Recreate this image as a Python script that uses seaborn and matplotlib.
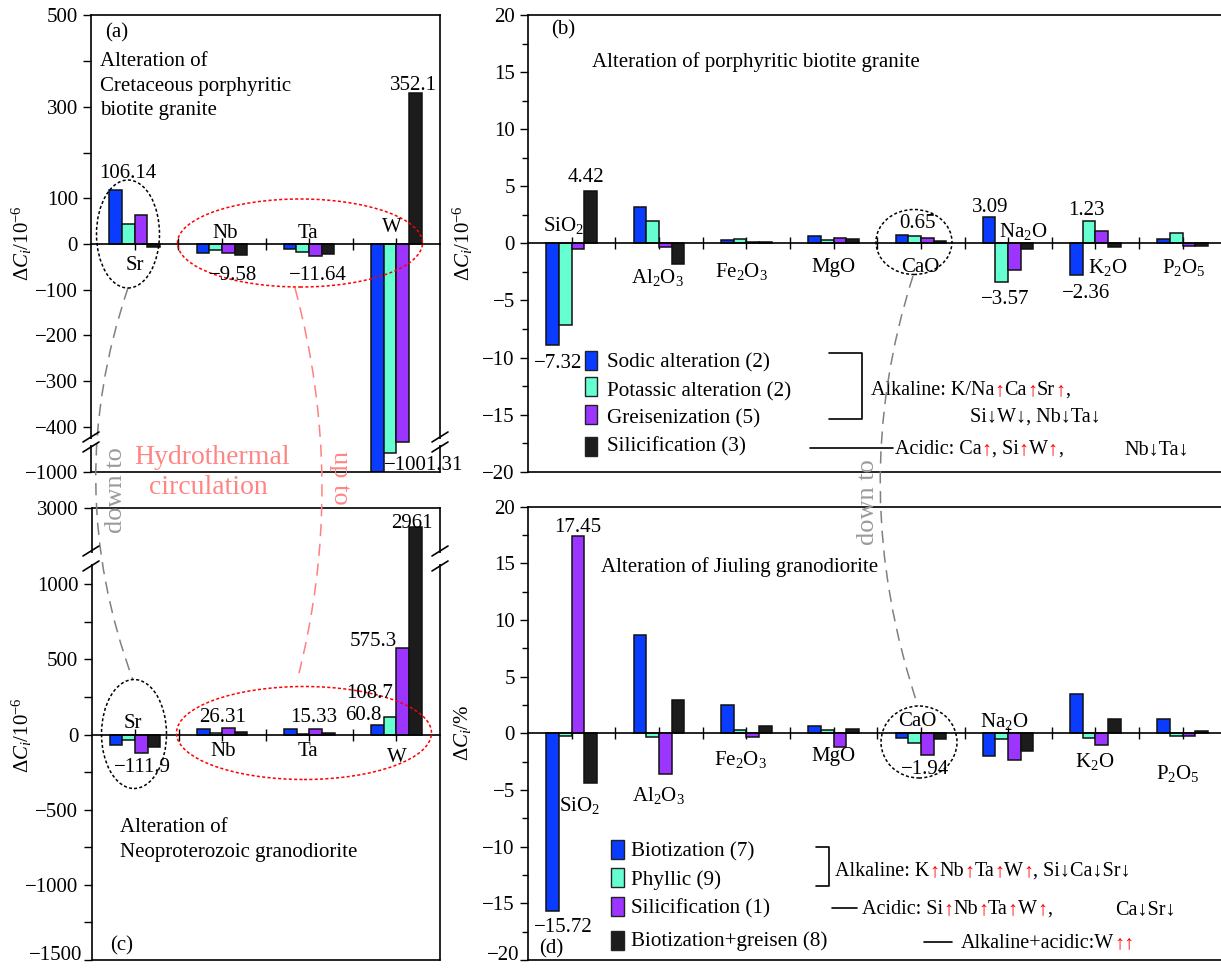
import numpy as np
import pandas as pd
import matplotlib
matplotlib.use("Agg")
import matplotlib.pyplot as plt
import seaborn as sns
from matplotlib.patches import Ellipse, PathPatch, Rectangle
from matplotlib.path import Path
from matplotlib.lines import Line2D

sns.set_theme(style="ticks")
plt.rcParams["font.family"] = ["Liberation Serif", "DejaVu Serif"]
plt.rcParams["mathtext.fontset"] = "custom"
plt.rcParams["mathtext.rm"] = "Liberation Serif"
plt.rcParams["mathtext.it"] = "Liberation Serif:italic"
for key in ["text.color", "axes.labelcolor", "xtick.color", "ytick.color", "axes.edgecolor"]:
    plt.rcParams[key] = "black"

W, H = 1221, 969

# ---- data ----
TRACE = ["Sr", "Nb", "Ta", "W"]
OXIDES = ["SiO$_2$", "Al$_2$O$_3$", "Fe$_2$O$_3$", "MgO", "CaO", "Na$_2$O", "K$_2$O", "P$_2$O$_5$"]

SERIES_B = ["Sodic alteration (2)", "Potassic alteration (2)", "Greisenization (5)", "Silicification (3)"]
SERIES_D = ["Biotization (7)", "Phyllic (9)", "Silicification (1)", "Biotization+greisen (8)"]
COLORS = ["#0a3cff", "#66ffd2", "#9b35ff", "#1c1c1c"]

# (a) Cretaceous porphyritic biotite granite, trace elements
a_sodic = [118, -20, -12, -1001.31]
a_potassic = [43, -13, -17, -601]
a_greisen = [63, -20, -26, -433]
a_silic = [-6, -24, -22, 330]

# (c) Neoproterozoic granodiorite, trace elements
c_biot = [-68, 38, 36, 66]
c_phyllic = [-33, 9, 6, 115]
c_silic = [-121, 42, 40, 574]
c_biot_greisen = [-84, 16, 10, 2366]

# (b) porphyritic biotite granite, major oxides
b_sodic = [-8.9, 3.2, 0.3, 0.63, 0.75, 2.27, -2.8, 0.4]
b_potassic = [-7.17, 1.94, 0.36, 0.3, 0.6, -3.4, 1.98, 0.93]
b_greisen = [-0.5, -0.36, 0.1, 0.45, 0.5, -2.3, 1.1, -0.24]
b_silic = [4.6, -1.79, 0.15, 0.39, 0.24, -0.53, -0.3, -0.2]

# (d) Jiuling granodiorite, major oxides
d_biot = [-15.72, 8.68, 2.52, 0.65, -0.4, -2.0, 3.5, 1.31]
d_phyllic = [-0.23, -0.32, 0.32, 0.3, -0.82, -0.5, -0.44, -0.2]
d_silic = [17.4, -3.62, -0.32, -1.19, -1.87, -2.34, -1.02, -0.2]
d_biot_greisen = [-4.35, 2.96, 0.65, 0.41, -0.5, -1.52, 1.31, 0.23]

MINUS = "\u2212"
a_ticks = [500, 400, 300, 200, 100, 0, -100, -200, -300, -400, -1000]
a_ticklabels = ["500", "", "300", "", "100", "0", MINUS + "100", MINUS + "200",
                MINUS + "300", MINUS + "400", MINUS + "1000"]
c_ticks = [3000, 1000, 750, 500, 250, 0, -250, -500, -750, -1000, -1250, -1500]
c_ticklabels = ["3000", "1000", "", "500", "", "0", "", MINUS + "500", "",
                MINUS + "1000", "", MINUS + "1500"]
bd_ticks = [20, 15, 10, 5, 0, -5, -10, -15, -20]
bd_ticklabels = [str(t).replace("-", MINUS) for t in bd_ticks]

fig = plt.figure(figsize=(W / 100, H / 100), dpi=100)


def px_axes(l, t, r, b):
    return fig.add_axes([l / W, 1 - b / H, (r - l) / W, (b - t) / H])


def ftext(x, y, s, size=15, **kw):
    kw.setdefault("ha", "center")
    kw.setdefault("va", "center")
    return fig.text(x / W, 1 - y / H, s, fontsize=size, **kw)


def fline(xs, ys, **kw):
    kw.setdefault("color", "black")
    kw.setdefault("lw", 1.2)
    fig.add_artist(Line2D([x / W for x in xs], [1 - y / H for y in ys],
                          transform=fig.transFigure, **kw))


def draw_bars(ax, cats, series, cols):
    df = pd.DataFrame(dict(zip(series, cols)), index=cats)
    df = df.reset_index(names="cat").melt(id_vars="cat", var_name="series", value_name="val")
    sns.barplot(data=df, x="cat", y="val", hue="series", order=cats, hue_order=series,
                palette=COLORS, saturation=1, width=0.58, edgecolor="#111111",
                linewidth=1.1, errorbar=None, legend=False, ax=ax)
    ax.set_xlabel("")
    ax.set_ylabel("")
    n = len(cats)
    ax.set_xlim(-0.5, n - 0.5)
    ax.set_xticks(range(n))
    ax.set_xticks(np.arange(n - 1) + 0.5, minor=True)
    ax.set_xticklabels([])
    ax.tick_params(axis="x", which="both", direction="inout", length=9, width=1)
    ax.spines["bottom"].set_position(("data", 0))
    ax.add_line(Line2D([0, 1], [0, 0], transform=ax.transAxes, color="black",
                       lw=1.2, clip_on=False))
    for s in ax.spines.values():
        s.set_linewidth(1.2)
    ax.tick_params(axis="y", which="major", direction="out", length=6, width=1, labelsize=15)
    ax.tick_params(axis="y", which="minor", direction="out", length=4, width=1)


# ---- panel (a) ----
ax_a = px_axes(91, 15.5, 440, 471.7)
draw_bars(ax_a, TRACE, SERIES_B, [a_sodic, a_potassic, a_greisen, a_silic])
ax_a.set_yscale("function", functions=(
    lambda v: np.where(v >= -440, v, -440 + (v + 440) * 0.1043),
    lambda u: np.where(u >= -440, u, -440 + (u + 440) / 0.1043)))
ax_a.set_ylim(-1000, 500)
ax_a.set_yticks(a_ticks)
ax_a.set_yticklabels(a_ticklabels)

# ---- panel (c) ----
ax_c = px_axes(91.5, 508.3, 440, 960)
draw_bars(ax_c, TRACE, SERIES_D, [c_biot, c_phyllic, c_silic, c_biot_greisen])
ax_c.set_yscale("function", functions=(
    lambda v: np.where(v <= 1150, v, 1150 + (v - 1150) * 0.1922),
    lambda u: np.where(u <= 1150, u, 1150 + (u - 1150) / 0.1922)))
ax_c.set_ylim(-1500, 3000)
ax_c.set_yticks(c_ticks)
ax_c.set_yticklabels(c_ticklabels[:-1] + [""])

# ---- panels (b) and (d) ----
ax_b = px_axes(528, 15, 1226.4, 471.7)
draw_bars(ax_b, OXIDES, SERIES_B, [b_sodic, b_potassic, b_greisen, b_silic])
ax_d = px_axes(528, 506.7, 1226.4, 960)
draw_bars(ax_d, OXIDES, SERIES_D, [d_biot, d_phyllic, d_silic, d_biot_greisen])
for ax in (ax_b, ax_d):
    ax.set_ylim(-20, 20)
    ax.set_yticks(bd_ticks)
    ax.set_yticks(np.arange(-17.5, 20, 5), minor=True)
    ax.spines["right"].set_visible(False)
ax_b.set_yticklabels(bd_ticklabels)
ax_d.set_yticklabels(bd_ticklabels[:-1] + [""])

# bottom-most tick labels, nudged up so they stay inside the picture
ftext(82, 956, c_ticklabels[-1], ha="right")
ftext(519, 956, bd_ticklabels[-1], ha="right")

# ---- axis breaks ----
for x in (91, 440):
    for y0, y1 in ((437, 447), (551, 566)):
        fig.add_artist(Rectangle(((x - 4) / W, 1 - (y1 - 2) / H), 8 / W, (y1 - y0 - 4) / H,
                                 transform=fig.transFigure, fc="white", ec="none", zorder=5))
        for y in (y0, y1):
            fline([x - 8, x + 8], [y + 5, y - 5], lw=1.2, zorder=6)

# ---- y labels ----
ylab = "\u0394$C_i$/10$^{-6}$"
ftext(22, 243, ylab, rotation=90)
ftext(22, 735, ylab, rotation=90)
ftext(463, 243, ylab, rotation=90)
ftext(463, 733, "\u0394$C_i$/%", rotation=90)

# ---- panel texts ----
ftext(117, 33, "(a)")
for i, line in enumerate(["Alteration of", "Cretaceous porphyritic", "biotite granite"]):
    ftext(100, 61 + 25 * i, line, ha="left")
ftext(122, 946, "(c)")
ftext(120, 827, "Alteration of", ha="left")
ftext(120, 852, "Neoproterozoic granodiorite", ha="left")
ftext(563, 30, "(b)")
ftext(592, 62, "Alteration of porphyritic biotite granite", ha="left")
ftext(551, 949, "(d)")
ftext(601, 567, "Alteration of Jiuling granodiorite", ha="left")

# category labels
for (x, y), s in zip([(135, 266), (225, 233), (308, 233), (392, 228)], TRACE):
    ftext(x, y, s)
for (x, y), s in zip([(133, 723), (223, 751), (308, 751), (397, 758)], TRACE):
    ftext(x, y, s)
for (x, y), s in zip([(564, 225), (657, 278), (741, 272), (833, 267), (920, 267),
                      (1023, 231), (1108, 268), (1184, 267)], OXIDES):
    ftext(x, y, s)
for (x, y), s in zip([(580, 806), (658, 795), (740, 760), (833, 756), (917, 722),
                      (1004, 721), (1095, 761), (1178, 773)], OXIDES):
    ftext(x, y, s)

# value labels
value_labels = [
    (128, 174, "106.14"), (413, 85, "352.1"), (233, 275, MINUS + "9.58"),
    (318, 275, MINUS + "11.64"), (424, 465, MINUS + "1001.31"),
    (142, 768, MINUS + "111.9"), (223, 717, "26.31"), (314, 717, "15.33"),
    (363, 715, "60.8"), (370, 693, "108.7"), (373, 641, "575.3"), (412, 523, "2961"),
    (586, 178, "4.42"), (558, 364, MINUS + "7.32"), (918, 224, "0.65"),
    (990, 208, "3.09"), (1005, 299, MINUS + "3.57"), (1086, 210, "1.23"),
    (1086, 293, MINUS + "2.36"),
    (578, 527, "17.45"), (563, 928, MINUS + "15.72"), (925, 769, MINUS + "1.94"),
]
for x, y, s in value_labels:
    ftext(x, y, s, zorder=7)

# ---- legends ----
for (top, ty), c, s in zip([(351, 363), (377, 392), (405, 419), (437, 447)], COLORS, SERIES_B):
    fig.add_artist(Rectangle((585 / W, 1 - (top + 19) / H), 12 / W, 19 / H,
                             transform=fig.transFigure, fc=c, ec="#222222", lw=1))
    ftext(607, ty, s, size=15.2, ha="left")
for (top, ty), c, s in zip([(840, 852), (868, 880), (897, 909), (931, 941)], COLORS, SERIES_D):
    fig.add_artist(Rectangle((611 / W, 1 - (top + 18.5) / H), 13 / W, 18.5 / H,
                             transform=fig.transFigure, fc=c, ec="#222222", lw=1))
    ftext(631, ty, s, size=15.2, ha="left")

fline([829, 862, 862, 829], [353, 353, 419, 419])
fline([810, 893], [448, 448])
fline([816, 829, 829, 816], [847, 847, 886, 886])
fline([832, 857], [908, 908])
fline([924, 952], [942, 942])

renderer = fig.canvas.get_renderer()


def seg_text(x, y, parts, size=14.5):
    for s, c in parts:
        t = fig.text(x / W, 1 - (y + 6) / H, s, color=c, fontsize=size, ha="left", va="baseline")
        x += t.get_window_extent(renderer=renderer).width


K, R = "black", "red"
UP, DN = "\u2191", "\u2193"
seg_text(871, 389, [("Alkaline: K/Na", K), (UP, R), ("Ca", K), (UP, R), ("Sr", K), (UP, R), (",", K)])
seg_text(970, 416, [("Si" + DN + "W" + DN + ", Nb" + DN + "Ta" + DN, K)])
seg_text(895, 448, [("Acidic: Ca", K), (UP, R), (", Si", K), (UP, R), ("W", K), (UP, R), (",", K)])
seg_text(1124, 448, [("Nb" + DN + "Ta" + DN, K)])
seg_text(835, 870, [("Alkaline: K", K), (UP, R), ("Nb", K), (UP, R), ("Ta", K), (UP, R),
                    ("W", K), (UP, R), (", Si" + DN + "Ca" + DN + "Sr" + DN, K)])
seg_text(862, 908, [("Acidic: Si", K), (UP, R), ("Nb", K), (UP, R), ("Ta", K), (UP, R),
                    ("W", K), (UP, R), (",", K)])
seg_text(1115, 908, [("Ca" + DN + "Sr" + DN, K)])
seg_text(961, 942, [("Alkaline+acidic:W", K), (UP + UP, R)])


# ---- ellipses and connecting curves ----
def fellipse(cx, cy, w, h, color, ls):
    fig.add_artist(Ellipse((cx / W, 1 - cy / H), w / W, h / H, transform=fig.transFigure,
                           fill=False, ec=color, ls=ls, lw=1.1, zorder=6))


fellipse(128, 234, 63, 108, "black", (0, (2, 1.5)))
fellipse(300, 243, 245, 88, "red", (0, (2, 1.5)))
fellipse(134, 734, 65, 109, "black", (0, (2, 1.5)))
fellipse(304, 733, 255, 93, "red", (0, (2, 1.5)))
fellipse(914, 242, 76, 65, "black", (0, (2, 1.5)))
fellipse(919, 742, 76, 72, "black", (0, (2, 1.5)))


def fcurve(p0, p1, p2, color):
    pts = [(x / W, 1 - y / H) for x, y in (p0, p1, p2)]
    fig.add_artist(PathPatch(Path(pts, [Path.MOVETO, Path.CURVE3, Path.CURVE3]),
                             transform=fig.transFigure, fill=False, ec=color,
                             ls=(0, (8, 5)), lw=1.1, zorder=4))


fcurve((128, 288), (61, 485), (133, 680), "#808080")
fcurve((295, 288), (348, 485), (297, 681), "#ff8080")
fcurve((913, 276), (845, 488), (918, 706), "#808080")

pink = "#ff8585"
ftext(212, 458, "Hydrothermal", size=20, color=pink)
ftext(208, 488, "circulation", size=20, color=pink)
ftext(116, 490, "down to", size=19, color="#9a9a9a", rotation=90)
ftext(340, 478, "up to", size=19, color=pink, rotation=-90)
ftext(868, 502, "down to", size=19, color="#9a9a9a", rotation=90)

fig.savefig("out.png", dpi=100)
